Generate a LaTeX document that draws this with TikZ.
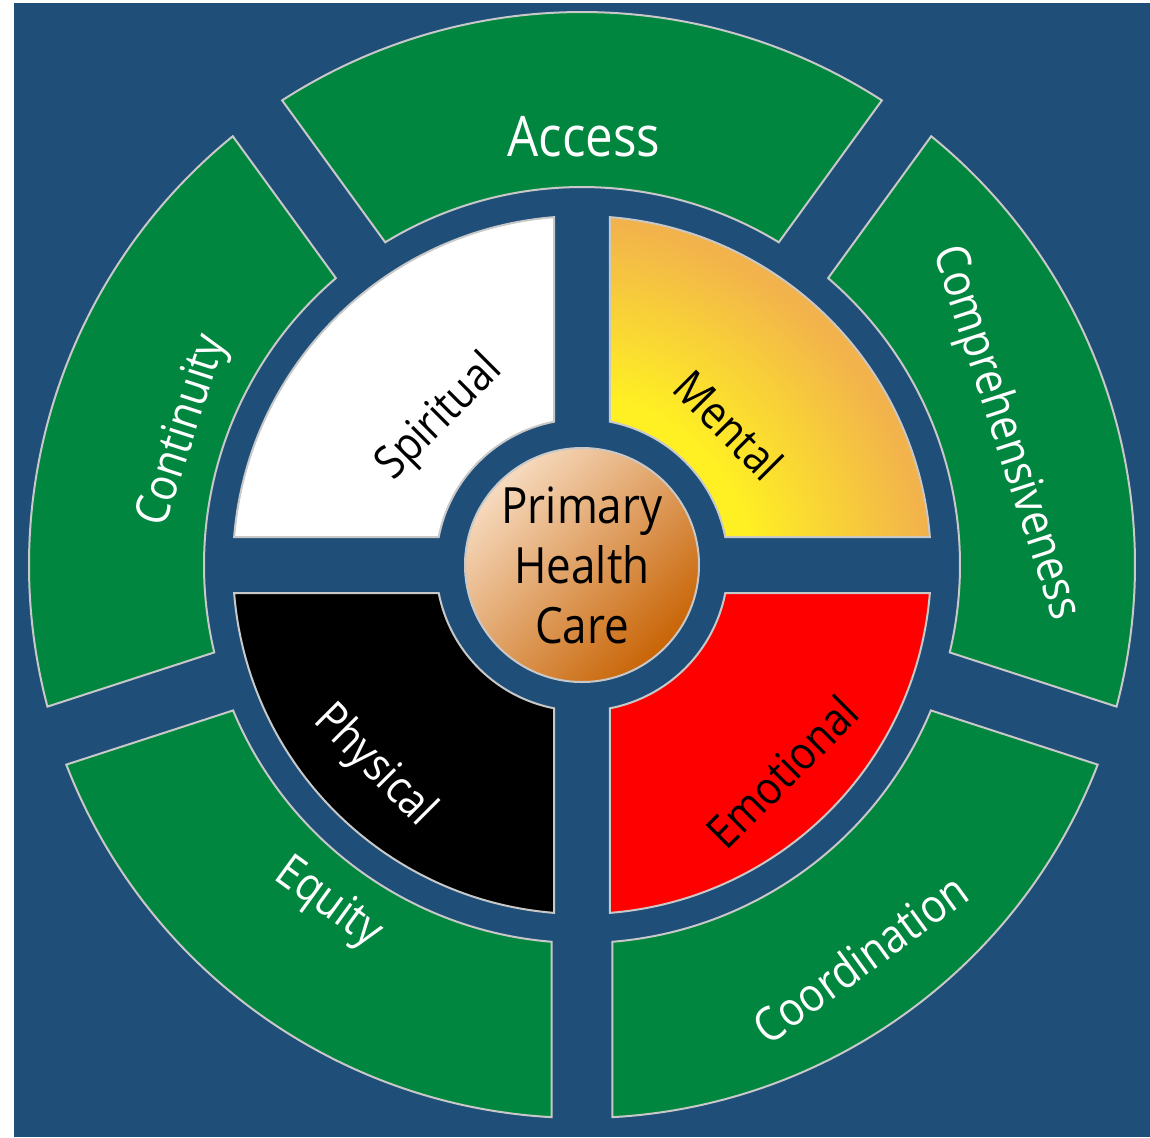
\documentclass[tikz,border=0pt]{standalone}
\usepackage{fontspec}
\newfontfamily\wheelfont{Open Sans}[FakeStretch=0.88]

\definecolor{bgblue}{RGB}{31,78,121}
\definecolor{ringgreen}{RGB}{0,134,62}
\definecolor{rimgray}{RGB}{200,200,200}
\definecolor{mentalyellow}{RGB}{255,240,35}
\definecolor{mentalorange}{RGB}{242,178,76}
\definecolor{phclight}{RGB}{246,218,190}
\definecolor{phcmid}{RGB}{216,132,60}
\definecolor{phcdark}{RGB}{200,100,5}

% yellow core fading out to orange (25bp = radius of the shaded circle)
\pgfdeclareradialshading{mentalglow}{\pgfpoint{0bp}{0bp}}{%
  color(0bp)=(mentalyellow); color(12bp)=(mentalyellow);
  color(23bp)=(mentalorange); color(50bp)=(mentalorange)}

% ring piece: style, mid angle, half span, inner r, outer r, half gap
\newcommand{\wheelpiece}[6]{%
  \path[#1] ({#2-#3+asin(#6/#5)}:#5)
    arc[start angle={#2-#3+asin(#6/#5)}, end angle={#2+#3-asin(#6/#5)}, radius=#5]
    -- ({#2+#3-asin(#6/#4)}:#4)
    arc[start angle={#2+#3-asin(#6/#4)}, end angle={#2-#3+asin(#6/#4)}, radius=#4]
    -- cycle;}

\begin{document}
\begin{tikzpicture}[
    x=0.5pt, y=0.5pt,
    rim/.style={draw=rimgray, line width=1pt},
    outerpiece/.style={rim, fill=ringgreen},
    outerlabel/.style={text=white, font=\wheelfont\fontsize{23.5}{28}\selectfont},
    innerlabel/.style={font=\wheelfont\fontsize{23}{28}\selectfont}
]

    \useasboundingbox (-582,-572) rectangle (568,565);
    \fill[bgblue] (-568,-572) rectangle (568,562);

    % outer ring
    \foreach \mid in {90,18,-54,-126,162} {
        \wheelpiece{outerpiece}{\mid}{36}{378}{553}{30.5}
    }

    % four quadrants
    \wheelpiece{rim, fill=white}{135}{45}{146}{349}{28}
    \begin{scope}
        \wheelpiece{clip}{45}{45}{146}{349}{28}
        \shade[shading=mentalglow] (-20,-20) circle (400);
    \end{scope}
    \wheelpiece{rim}{45}{45}{146}{349}{28}
    \wheelpiece{rim, fill=red}{-45}{45}{146}{349}{28}
    \wheelpiece{rim, fill=black}{-135}{45}{146}{349}{28}

    % centre
    \shade[top color=phclight, middle color=phcmid, bottom color=phcdark, shading angle=45] (0,0) circle (117);
    \draw[rim] (0,0) circle (117);
    \node[align=center, font=\wheelfont\fontsize{25}{30}\selectfont] (phc) at (0,0) {Primary\\Health\\Care};

    \node[outerlabel, font=\wheelfont\fontsize{28}{32}\selectfont] (access) at (2,428) {Access};
    \node[outerlabel, rotate=-72] (comprehensiveness) at (423,132) {Comprehensiveness};
    \node[outerlabel, rotate=36] (coordination) at (278,-393) {Coordination};
    \node[outerlabel, rotate=-36] (equity) at (-254,-339) {Equity};
    \node[outerlabel, rotate=72] (continuity) at (-398,134) {Continuity};

    \node[innerlabel, rotate=45] (spiritual) at (-142,147) {Spiritual};
    \node[innerlabel, rotate=-45] (mental) at (147,140) {Mental};
    \node[innerlabel, rotate=45] (emotional) at (200,-207) {Emotional};
    \node[innerlabel, rotate=-45, text=white] (physical) at (-208,-201) {Physical};

\end{tikzpicture}
\end{document}
